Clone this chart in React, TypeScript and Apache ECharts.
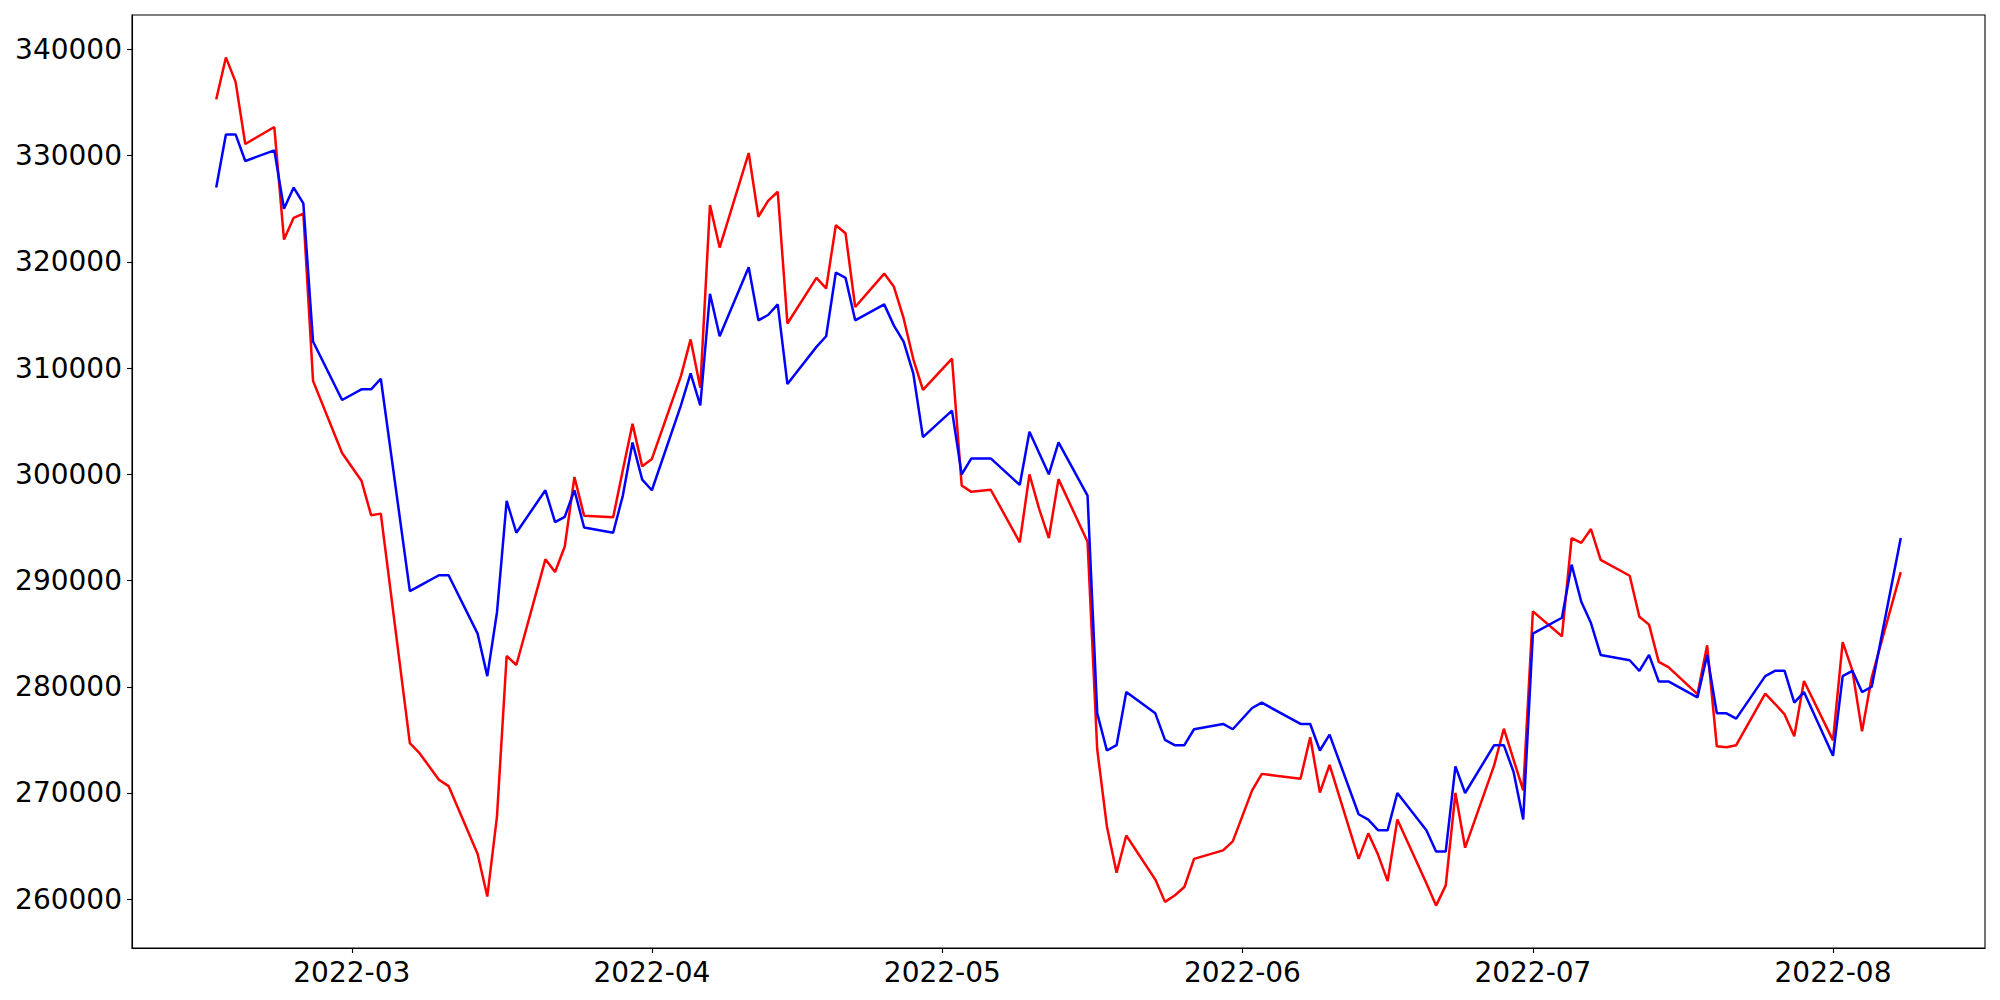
import React, { useEffect, useRef } from "react";
import * as echarts from "echarts";

const dates: string[] = [
  "2022-02-15", "2022-02-16", "2022-02-17", "2022-02-18", "2022-02-21", "2022-02-22", "2022-02-23", "2022-02-24", "2022-02-25", "2022-02-28",
  "2022-03-02", "2022-03-03", "2022-03-04", "2022-03-07", "2022-03-08", "2022-03-10", "2022-03-11", "2022-03-14", "2022-03-15", "2022-03-16",
  "2022-03-17", "2022-03-18", "2022-03-21", "2022-03-22", "2022-03-23", "2022-03-24", "2022-03-25", "2022-03-28", "2022-03-29", "2022-03-30", "2022-03-31",
  "2022-04-01", "2022-04-04", "2022-04-05", "2022-04-06", "2022-04-07", "2022-04-08", "2022-04-11", "2022-04-12", "2022-04-13", "2022-04-14",
  "2022-04-15", "2022-04-18", "2022-04-19", "2022-04-20", "2022-04-21", "2022-04-22", "2022-04-25", "2022-04-26", "2022-04-27", "2022-04-28", "2022-04-29",
  "2022-05-02", "2022-05-03", "2022-05-04", "2022-05-06", "2022-05-09", "2022-05-10", "2022-05-11", "2022-05-12", "2022-05-13", "2022-05-16",
  "2022-05-17", "2022-05-18", "2022-05-19", "2022-05-20", "2022-05-23", "2022-05-24", "2022-05-25", "2022-05-26", "2022-05-27", "2022-05-30", "2022-05-31",
  "2022-06-02", "2022-06-03", "2022-06-07", "2022-06-08", "2022-06-09", "2022-06-10", "2022-06-13", "2022-06-14", "2022-06-15", "2022-06-16",
  "2022-06-17", "2022-06-20", "2022-06-21", "2022-06-22", "2022-06-23", "2022-06-24", "2022-06-27", "2022-06-28", "2022-06-29", "2022-06-30",
  "2022-07-01", "2022-07-04", "2022-07-05", "2022-07-06", "2022-07-07", "2022-07-08", "2022-07-11", "2022-07-12", "2022-07-13", "2022-07-14",
  "2022-07-15", "2022-07-18", "2022-07-19", "2022-07-20", "2022-07-21", "2022-07-22", "2022-07-25", "2022-07-26", "2022-07-27", "2022-07-28", "2022-07-29",
  "2022-08-01", "2022-08-02", "2022-08-03", "2022-08-04", "2022-08-05", "2022-08-08",
];

const redValues: number[] = [
  335300, 339250, 336950, 331100, 332700, 322100, 324150, 324550, 308800, 302000,
  299400, 296150, 296300, 274700, 273750, 271250, 270650, 264250, 260250, 267800,
  282900, 282050, 292000, 290800, 293200, 299750, 296100, 295950, 300400, 304750, 300750,
  301450, 309250, 312700, 308150, 325350, 321350, 330250, 324250, 325750, 326600,
  314200, 318500, 317500, 323450, 322700, 315750, 318900, 317650, 314700, 310850, 307950,
  310900, 298950, 298350, 298550, 293600, 300000, 296750, 294000, 299550, 293650,
  274100, 266850, 262500, 266000, 261850, 259750, 260350, 261150, 263800, 264600, 265450,
  270250, 271800, 271350, 275250, 270050, 272650, 263800, 266200, 264200, 261700,
  267500, 261500, 259400, 261300, 270000, 264850, 272600, 276050, 273150, 270250,
  287100, 284750, 294000, 293550, 294850, 291950, 290450, 286600, 285850, 282350,
  281850, 279300, 283900, 274400, 274300, 274500, 279350, 278400, 277400, 275350, 280550,
  274950, 284200, 281550, 275800, 280900, 290800,
];

const blueValues: number[] = [
  327000, 332000, 332000, 329500, 330500, 325000, 327000, 325500, 312500, 307000,
  308000, 308000, 309000, 289000, 289500, 290500, 290500, 285000, 281000, 287000,
  297500, 294500, 298500, 295500, 296000, 298500, 295000, 294500, 298000, 303000, 299500,
  298500, 306500, 309500, 306500, 317000, 313000, 319500, 314500, 315000, 316000,
  308500, 312000, 313000, 319000, 318500, 314500, 316000, 314000, 312500, 309500, 303500,
  306000, 300000, 301500, 301500, 299000, 304000, 302000, 300000, 303000, 298000,
  277500, 274000, 274500, 279500, 277500, 275000, 274500, 274500, 276000, 276500, 276000,
  278000, 278500, 276500, 276500, 274000, 275500, 268000, 267500, 266500, 266500,
  270000, 266500, 264500, 264500, 272500, 270000, 274500, 274500, 272000, 267500,
  285000, 286500, 291500, 288000, 286000, 283000, 282500, 281500, 283000, 280500,
  280500, 279000, 283000, 277500, 277500, 277000, 281000, 281500, 281500, 278500, 279500,
  273500, 281000, 281500, 279500, 280000, 294000,
];

const FONT = "DejaVu Sans";

function toTime(s: string): number {
  const [y, m, d] = s.split("-").map(Number);
  return new Date(y, m - 1, d).getTime();
}

export default function App() {
  const ref = useRef<HTMLDivElement>(null);

  useEffect(() => {
    if (!ref.current) return;
    const chart = echarts.init(ref.current, undefined, { renderer: "svg" });

    const t0 = toTime(dates[0]);
    const t1 = toTime(dates[dates.length - 1]);
    const tPad = (t1 - t0) * 0.05;
    const all = redValues.concat(blueValues);
    const vMin = Math.min(...all);
    const vMax = Math.max(...all);
    const vPad = (vMax - vMin) * 0.05;

    const red = dates.map((d, i) => [toTime(d), redValues[i]]);
    const blue = dates.map((d, i) => [toTime(d), blueValues[i]]);

    chart.setOption({
      animation: false,
      backgroundColor: "#ffffff",
      grid: {
        left: 132,
        right: 15,
        top: 15,
        bottom: 52,
        show: true,
        borderColor: "#000",
        borderWidth: 1.1,
        backgroundColor: "transparent",
      },
      xAxis: {
        type: "time",
        min: t0 - tPad,
        max: t1 + tPad,
        splitNumber: 6,
        axisLine: { show: true, lineStyle: { color: "#000", width: 1.1 } },
        axisTick: { show: true, length: 5, lineStyle: { color: "#000", width: 1.1 } },
        axisLabel: {
          color: "#000",
          fontSize: 28,
          fontFamily: FONT,
          margin: 10,
          formatter: (v: number) => {
            const d = new Date(v);
            return d.getFullYear() + "-" + String(d.getMonth() + 1).padStart(2, "0");
          },
        },
        splitLine: { show: false },
        minorTick: { show: false },
      },
      yAxis: {
        type: "value",
        min: vMin - vPad,
        max: vMax + vPad,
        splitNumber: 9,
        axisLine: { show: true, lineStyle: { color: "#000", width: 1.1 } },
        axisTick: { show: true, length: 5, lineStyle: { color: "#000", width: 1.1 } },
        axisLabel: {
          color: "#000",
          fontSize: 28,
          fontFamily: FONT,
          margin: 10,
          showMinLabel: false,
          showMaxLabel: false,
          formatter: (v: number) => String(Math.round(v)),
        },
        splitLine: { show: false },
      },
      series: [
        {
          type: "line",
          data: red,
          showSymbol: false,
          symbol: "none",
          lineStyle: { color: "#ff0000", width: 2.5 },
          itemStyle: { color: "#ff0000" },
        },
        {
          type: "line",
          data: blue,
          showSymbol: false,
          symbol: "none",
          lineStyle: { color: "#0000ff", width: 2.5 },
          itemStyle: { color: "#0000ff" },
        },
      ],
    });

    return () => chart.dispose();
  }, []);

  return (
    <div
      ref={ref}
      style={{ position: "fixed", left: 0, top: 0, width: 2000, height: 1000, background: "#fff" }}
    />
  );
}
